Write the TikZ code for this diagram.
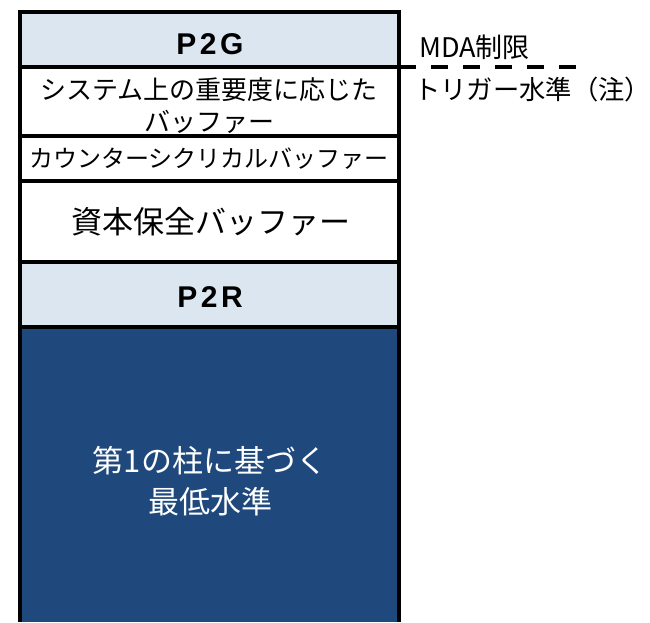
\documentclass[tikz,border=0pt]{standalone}
\usepackage{fontspec}
\newfontfamily\cjk{Noto Sans CJK JP}
\newfontfamily\latb{Liberation Sans}
\definecolor{lightblue}{RGB}{220,230,241}
\definecolor{darkblue}{RGB}{31,73,125}
\begin{document}
\begin{tikzpicture}[x=1pt,y=-1pt,
  layer/.style={draw=black, line width=3.3pt, minimum width=379pt, inner sep=0pt, outer sep=0pt, anchor=north west},
  border/.style={draw=black, line width=3.3pt},
  boldlbl/.style={font=\latb\bfseries\fontsize{30}{30}\selectfont, inner sep=0pt},
  jlbl/.style={font=\cjk\fontsize{#1}{#1}\selectfont, inner sep=0pt, align=center},
  jlbl/.default=26]
\useasboundingbox (0,0) rectangle (650,622);
% base column
\node[anchor=north west, fill=darkblue, draw=none, minimum width=379pt, minimum height=295pt, inner sep=0pt, outer sep=0pt] (pillar) at (20,327) {};
\draw[border] (pillar.north west) -- (pillar.south west);
\draw[border] (pillar.north east) -- (pillar.south east);
% layers
\node[layer, fill=lightblue, minimum height=55pt] (p2g) at (20,12) {};
\node[layer, fill=white, minimum height=69pt] (sys) at (20,67) {};
\node[layer, fill=white, minimum height=45pt] (ccb) at (20,136) {};
\node[layer, fill=white, minimum height=81pt] (cap) at (20,181) {};
\node[layer, fill=lightblue, minimum height=65pt] (p2r) at (20,262) {};
% labels
\node[boldlbl] (tp2g) at (210,44) {P\kern3.5pt 2\kern3.5pt G};
\node[jlbl, font=\cjk\fontsize{26}{32}\selectfont] (tsys) at (209,106) {システム上の重要度に応じた\\バッファー};
\node[jlbl=24] (tccb) at (209,159) {カウンターシクリカルバッファー};
\node[jlbl=31] (tcap) at (211,222) {資本保全バッファー};
\node[boldlbl] (tp2r) at (210,297) {P\kern3.5pt 2\kern3.5pt R};
\node[jlbl, font=\cjk\fontsize{31}{41}\selectfont, text=white] (tpil) at (210,481) {第1の柱に基づく\\最低水準};
% MDA trigger
\coordinate (dend) at (577,67);
\draw[line width=3.3pt, dash pattern=on 17pt off 15pt] (p2g.south east) -- (dend);
\node[jlbl=27, anchor=west] (mda) at (419,47) {MDA制限};
\node[jlbl=26.3, anchor=west] (trig) at (414,90) {トリガー水準（注）};
\end{tikzpicture}
\end{document}
